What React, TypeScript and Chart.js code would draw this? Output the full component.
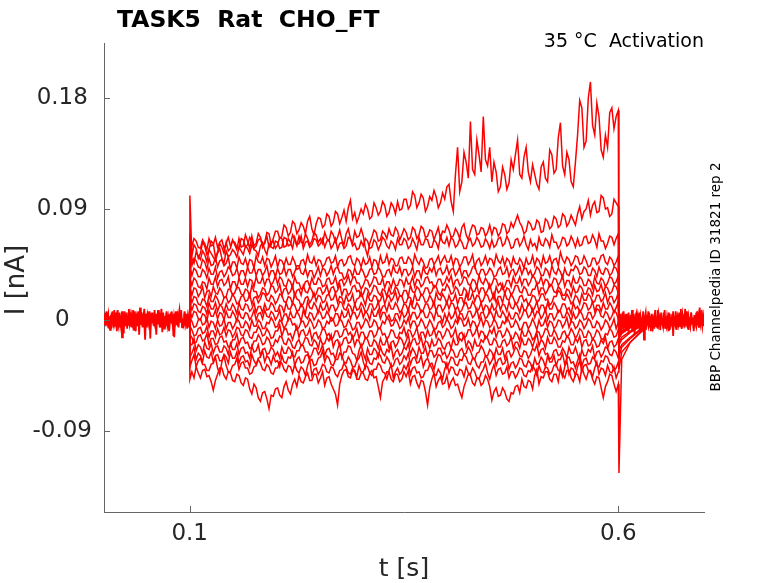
import { useEffect, useRef } from "react";
import { Chart, registerables } from "chart.js";

Chart.register(...registerables);

// ---- axes / ticks ----
const X_MIN = 0;
const X_MAX = 0.7;
const Y_MIN = -0.1557;
const Y_MAX = 0.2246;
const X_TICKS = [0.1, 0.6];
const Y_TICKS = [-0.09, 0, 0.09, 0.18];

// ---- protocol timing (s) ----
const PULSE_START = 0.1;
const PULSE_END = 0.6;
const STEP_DT = 0.0025; // sample interval of the step traces
const ONSET_T = 0.1002;
const TAIL_T = [0.6008, 0.604, 0.614, 0.632];

// ---- current traces during the step, in pA (200 samples, 0.1025 .. 0.600 s) ----
const TRACE_A = [
  52, 61, 58, 50, 54, 63, 60, 53, 57, 64, 62, 51, 55, 62, 59, 54, 63, 56, 58, 65,
  61, 57, 66, 59, 60, 69, 64, 58, 68, 60, 62, 70, 67, 59, 63, 71, 70, 61, 66, 72,
  72, 66, 68, 77, 75, 68, 71, 80, 78, 70, 73, 79, 76, 70, 80, 84, 74, 69, 78, 83,
  82, 75, 77, 86, 84, 76, 79, 88, 86, 78, 83, 89, 80, 91, 97, 82, 87, 79, 84, 90,
  86, 94, 90, 82, 84, 95, 91, 85, 88, 96, 93, 84, 87, 95, 92, 86, 96, 89, 90, 98,
  98, 90, 93, 104, 101, 91, 95, 102, 99, 88, 92, 100, 97, 105, 100, 91, 95, 103, 98, 108,
  110, 96, 88, 118, 140, 104, 112, 136, 128, 115, 161, 122, 118, 146, 134, 120, 165, 130, 125, 140,
  112, 128, 120, 104, 108, 124, 118, 106, 111, 130, 122, 134, 146, 118, 115, 132, 140, 120, 112, 126,
  118, 110, 106, 124, 128, 115, 112, 138, 134, 119, 122, 148, 160, 125, 118, 136, 130, 112, 108, 128,
  150, 178, 172, 140, 145, 180, 193, 158, 150, 176, 165, 138, 132, 150, 140, 168, 172, 155, 165, 170,
];
const TRACE_B = [
  50, 46, 55, 52, 49, 56, 53, 47, 57, 54, 51, 48, 54, 58, 50, 46, 56, 51, 53, 57,
  55, 51, 59, 56, 53, 60, 58, 54, 61, 57, 56, 52, 60, 63, 57, 53, 62, 59, 58, 64,
  63, 58, 59, 67, 66, 60, 61, 69, 65, 60, 68, 63, 62, 70, 66, 61, 64, 71, 69, 63,
  66, 62, 71, 66, 64, 72, 69, 63, 67, 73, 65, 61, 70, 74, 66, 62, 72, 67, 68, 74,
  68, 58, 52, 62, 67, 73, 71, 64, 65, 72, 70, 66, 74, 69, 68, 75, 72, 65, 69, 74,
  71, 65, 67, 75, 73, 66, 69, 76, 74, 67, 68, 73, 72, 65, 70, 75, 66, 72, 71, 77,
  73, 67, 68, 74, 71, 66, 75, 78, 69, 65, 72, 77, 76, 69, 70, 75, 74, 68, 71, 77,
  69, 75, 74, 68, 71, 78, 77, 70, 72, 79, 75, 80, 85, 79, 76, 70, 72, 80, 78, 73,
  74, 81, 79, 71, 72, 82, 80, 74, 76, 84, 82, 75, 77, 86, 84, 76, 79, 85, 81, 77,
  86, 92, 82, 88, 90, 97, 85, 93, 96, 87, 88, 101, 99, 90, 91, 84, 86, 98, 95, 92,
];
const TRACE_C = [
  60, 66, 64, 59, 58, 65, 62, 57, 66, 60, 61, 67, 59, 63, 65, 58, 62, 67, 60, 64,
  63, 59, 58, 66, 65, 59, 61, 67, 64, 58, 60, 65, 66, 61, 62, 68, 59, 63, 64, 58,
  61, 67, 66, 59, 60, 66, 63, 58, 67, 61, 62, 68, 58, 63, 64, 59, 61, 66, 65, 60,
  62, 66, 59, 64, 65, 58, 61, 66, 57, 62, 63, 58, 60, 67, 66, 60, 62, 57, 58, 64,
  60, 66, 64, 58, 59, 65, 63, 57, 61, 67, 65, 60, 58, 64, 62, 57, 66, 61, 61, 66,
  64, 58, 60, 66, 62, 57, 67, 61, 61, 66, 65, 59, 59, 65, 63, 58, 68, 63, 62, 67,
  60, 67, 65, 59, 61, 66, 63, 58, 58, 64, 66, 60, 62, 67, 64, 59, 60, 66, 63, 58,
  65, 59, 61, 66, 67, 60, 62, 68, 64, 58, 59, 65, 66, 60, 63, 68, 61, 57, 65, 60,
  62, 57, 67, 61, 60, 66, 64, 59, 69, 63, 63, 58, 61, 67, 66, 60, 62, 68, 64, 59,
  66, 60, 61, 67, 68, 62, 63, 69, 65, 59, 70, 64, 64, 58, 62, 68, 67, 61, 66, 70,
];
const TRACE_D = [
  44, 50, 48, 43, 42, 49, 47, 41, 50, 44, 45, 51, 43, 48, 49, 44, 46, 51, 41, 47,
  47, 42, 51, 46, 45, 50, 43, 49, 48, 42, 52, 47, 46, 51, 44, 50, 49, 43, 47, 52,
  43, 49, 48, 44, 50, 45, 45, 51, 47, 41, 42, 48, 49, 44, 53, 47, 46, 51, 44, 49,
  48, 43, 45, 50, 51, 46, 47, 52, 43, 48, 49, 44, 46, 51, 52, 46, 44, 50, 48, 43,
  50, 45, 46, 51, 43, 49, 48, 43, 52, 46, 47, 53, 45, 50, 49, 44, 44, 50, 51, 46,
  46, 51, 49, 44, 53, 48, 45, 50, 47, 42, 43, 49, 50, 45, 48, 52, 45, 49, 52, 47,
  47, 52, 44, 50, 49, 43, 46, 51, 51, 45, 48, 53, 43, 48, 50, 44, 47, 52, 45, 50,
  49, 44, 53, 48, 46, 51, 44, 50, 48, 43, 51, 46, 45, 50, 47, 42, 50, 45, 46, 52,
  44, 50, 48, 43, 52, 46, 47, 52, 45, 49, 50, 44, 55, 49, 46, 51, 49, 44, 47, 52,
  51, 45, 46, 52, 48, 43, 44, 50, 50, 45, 47, 52, 53, 47, 45, 51, 49, 44, 47, 52,
];
const TRACE_E = [
  36, 42, 40, 35, 35, 41, 39, 34, 42, 37, 37, 43, 34, 39, 40, 35, 38, 43, 41, 36,
  37, 42, 35, 40, 40, 35, 43, 38, 38, 43, 36, 41, 41, 36, 39, 44, 35, 40, 40, 35,
  42, 37, 38, 43, 36, 41, 41, 35, 39, 44, 44, 38, 37, 42, 35, 40, 40, 34, 38, 43,
  36, 42, 41, 36, 39, 44, 37, 42, 43, 38, 38, 33, 35, 41, 40, 35, 42, 37, 37, 42,
  39, 34, 36, 41, 42, 37, 38, 43, 40, 35, 35, 40, 41, 36, 44, 39, 38, 43, 36, 41,
  41, 36, 38, 43, 35, 40, 40, 34, 43, 38, 37, 42, 39, 44, 36, 41, 42, 37, 39, 44,
  37, 41, 42, 36, 39, 43, 35, 40, 40, 35, 38, 43, 44, 38, 36, 41, 41, 36, 38, 42,
  40, 35, 36, 41, 43, 37, 38, 43, 35, 40, 41, 36, 39, 44, 37, 42, 42, 37, 40, 35,
  38, 43, 41, 36, 36, 42, 40, 35, 44, 39, 37, 42, 39, 34, 42, 37, 36, 41, 40, 44,
  42, 37, 38, 43, 41, 36, 36, 42, 40, 35, 43, 38, 37, 42, 41, 36, 38, 43, 42, 37,
];
const TRACE_F = [
  28, 34, 32, 27, 26, 31, 30, 25, 34, 29, 29, 35, 27, 32, 33, 28, 30, 35, 25, 31,
  31, 26, 34, 29, 29, 34, 27, 33, 32, 27, 35, 30, 30, 35, 28, 33, 33, 28, 31, 36,
  29, 35, 33, 28, 27, 33, 31, 26, 35, 30, 30, 25, 26, 31, 32, 27, 34, 29, 29, 34,
  32, 27, 28, 33, 34, 29, 30, 35, 27, 32, 33, 28, 31, 36, 29, 34, 35, 30, 30, 25,
  28, 33, 32, 27, 30, 35, 34, 29, 29, 34, 26, 31, 31, 26, 33, 28, 28, 33, 32, 27,
  34, 29, 30, 35, 27, 33, 32, 27, 29, 34, 35, 30, 31, 26, 28, 33, 33, 28, 30, 35,
  31, 36, 27, 32, 33, 28, 30, 35, 34, 29, 28, 33, 32, 27, 36, 31, 29, 34, 31, 26,
  29, 34, 33, 28, 30, 25, 27, 32, 32, 27, 35, 30, 30, 35, 28, 33, 33, 28, 31, 36,
  34, 29, 30, 35, 28, 33, 32, 27, 29, 34, 33, 28, 31, 36, 27, 32, 32, 27, 35, 30,
  30, 35, 33, 28, 28, 33, 31, 26, 35, 30, 29, 34, 32, 27, 30, 35, 34, 29, 31, 36,
];
const TRACE_G = [
  20, 26, 25, 19, 22, 27, 18, 23, 24, 19, 27, 22, 21, 26, 23, 18, 19, 25, 25, 20,
  22, 27, 26, 21, 20, 25, 24, 19, 28, 23, 23, 18, 21, 26, 25, 20, 22, 28, 27, 22,
  24, 29, 20, 25, 26, 21, 23, 28, 19, 24, 25, 20, 28, 23, 22, 27, 24, 19, 21, 26,
  26, 21, 23, 28, 21, 26, 27, 22, 24, 29, 20, 25, 25, 20, 22, 27, 28, 23, 24, 19,
  21, 26, 25, 20, 23, 28, 27, 22, 20, 25, 24, 19, 26, 21, 22, 27, 25, 20, 19, 24,
  24, 19, 28, 23, 22, 27, 25, 20, 21, 26, 26, 21, 23, 28, 27, 22, 20, 25, 24, 29,
  26, 21, 22, 27, 25, 20, 20, 26, 24, 19, 28, 23, 23, 28, 21, 26, 26, 21, 24, 29,
  22, 17, 27, 22, 24, 29, 21, 26, 25, 20, 23, 28, 28, 23, 22, 27, 25, 20, 20, 25,
  25, 30, 21, 26, 26, 21, 24, 29, 28, 23, 22, 27, 25, 20, 20, 25, 24, 19, 27, 22,
  23, 28, 26, 21, 21, 26, 25, 20, 28, 23, 24, 29, 22, 27, 26, 21, 23, 28, 27, 22,
];
const TRACE_H = [
  14, 19, 18, 13, 12, 17, 16, 11, 20, 15, 15, 20, 17, 12, 13, 18, 19, 14, 16, 21,
  18, 13, 14, 19, 20, 15, 16, 21, 13, 18, 19, 14, 17, 22, 21, 16, 15, 20, 18, 13,
  16, 21, 20, 15, 14, 19, 18, 13, 22, 17, 16, 11, 13, 18, 19, 14, 17, 22, 15, 20,
  19, 14, 15, 20, 21, 16, 17, 22, 14, 19, 18, 13, 20, 15, 16, 21, 12, 17, 18, 23,
  17, 12, 21, 16, 15, 20, 19, 14, 16, 21, 13, 18, 20, 15, 18, 23, 15, 20, 19, 14,
  14, 19, 18, 13, 21, 16, 16, 21, 19, 14, 15, 20, 17, 12, 22, 17, 16, 21, 18, 13,
  20, 15, 16, 21, 13, 18, 18, 13, 21, 16, 17, 22, 15, 20, 19, 14, 16, 21, 20, 15,
  17, 22, 14, 19, 19, 14, 22, 17, 16, 21, 18, 13, 14, 19, 20, 15, 17, 12, 15, 20,
  19, 14, 16, 21, 21, 16, 17, 12, 14, 19, 19, 24, 22, 17, 16, 21, 18, 13, 15, 20,
  18, 13, 21, 16, 16, 21, 19, 14, 15, 20, 20, 15, 17, 22, 14, 19, 19, 14, 17, 22,
];
const TRACE_I = [
  8, 13, 12, 7, 6, 11, 10, 5, 14, 9, 9, 14, 7, 12, 11, 6, 13, 8, 8, 13,
  10, 5, 14, 9, 8, 13, 12, 7, 9, 14, 6, 11, 11, 6, 13, 8, 9, 14, 12, 7,
  7, 12, 11, 6, 14, 9, 9, 14, 12, 7, 8, 13, 10, 5, 15, 10, 9, 14, 11, 6,
  13, 8, 9, 14, 7, 12, 12, 7, 10, 15, 14, 9, 8, 13, 11, 6, 13, 8, 9, 14,
  11, 6, 8, 13, 13, 8, 10, 15, 6, 11, 12, 7, 14, 9, 9, 14, 11, 6, 8, 13,
  12, 7, 15, 10, 9, 14, 11, 6, 8, 13, 13, 8, 10, 15, 7, 12, 12, 7, 10, 15,
  9, 14, 13, 8, 11, 6, 8, 13, 14, 9, 10, 15, 12, 7, 9, 14, 7, 12, 11, 6,
  13, 8, 10, 15, 8, 13, 12, 7, 15, 10, 9, 14, 11, 6, 13, 8, 8, 13, 12, 7,
  10, 15, 7, 12, 12, 7, 14, 9, 9, 14, 11, 6, 8, 13, 13, 8, 10, 5, 14, 9,
  11, 6, 9, 14, 13, 8, 10, 15, 7, 12, 12, 7, 14, 9, 9, 14, 11, 6, 10, 15,
];
const TRACE_J = [
  2, 7, 6, 1, 0, 5, 4, -1, 8, 3, 3, 8, 1, 6, 5, 0, 7, 2, 2, 7,
  4, -1, 7, 2, 1, 6, 5, 0, 3, 8, 0, 5, 6, 1, 8, 3, 2, 7, 5, 0,
  3, 8, -1, 4, 5, 0, 7, 2, 2, 7, 4, -1, 8, 3, 1, 6, 5, 0, 3, 8,
  6, 1, 2, 7, 4, -1, 0, 5, 5, 0, 7, 2, 3, 8, 1, 6, 6, 1, 4, 9,
  2, 7, 5, 0, 8, 3, 3, 8, 1, 6, 6, 1, 4, -1, 0, 5, 5, 0, 7, 2,
  4, 9, 1, 6, 6, 1, 3, 8, 7, 2, 2, 7, 5, 0, 8, 3, 3, -2, 5, 0,
  6, 1, 3, 8, 0, 5, 5, 0, 2, 7, 7, 2, 4, 9, 1, 6, 6, 1, 3, 8,
  5, 0, 8, 3, 2, 7, 4, -1, 6, 1, 1, 6, 5, 0, 3, 8, 7, 2, 4, 9,
  2, 7, 6, 1, 4, 9, 0, 5, 5, 0, 3, 8, 7, 2, 2, 7, 4, -1, 6, 1,
  3, 8, 5, 0, 1, 6, 6, 1, 4, 9, 8, 3, 2, 7, 5, 0, 3, 8, 6, 1,
];
const TRACE_K = [
  -1, -6, -5, 0, 1, -4, -3, 2, -6, -1, -2, -7, 0, -5, -4, 1, -7, -2, -2, -7,
  -4, 1, -1, -6, -6, -1, -3, -8, 0, -5, -5, 0, -2, -7, -7, -2, -3, 2, -1, -6,
  -5, 0, -2, -7, -4, 1, 1, -4, -3, -8, -6, -1, -1, -6, -4, 1, -2, -7, -5, 0,
  -2, -7, -6, -1, -3, 2, 0, -5, -4, 1, -1, -6, -5, 0, -3, -8, -7, -2, -2, -7,
  -4, 1, -1, -6, -5, 0, -2, -7, -6, -1, -3, 2, 0, -5, -4, 1, -2, -7, -5, 0,
  -3, 2, -6, -1, -1, -6, -4, 1, -2, -7, -5, 0, -3, -8, -7, -2, -1, -6, -4, 1,
  -2, -7, -5, 0, -3, 2, 0, -5, -4, 1, -6, -1, -2, -7, -3, 2, -5, 0, -1, -6,
  -4, 1, -2, -7, -6, -1, -3, 2, -1, -6, -5, 0, -3, -8, -7, -2, -2, -7, -4, 1,
  -3, -8, 0, -5, -4, 1, -6, -1, -2, -7, -5, 0, -1, -6, -3, 2, -6, -1, -2, -7,
  -5, 0, -2, -7, -4, 1, -1, -6, -6, -1, -3, -8, -5, 0, -2, -7, -4, 1, -7, -2,
];
const TRACE_L = [
  -8, -13, -12, -7, -6, -11, -10, -5, -14, -9, -9, -14, -7, -12, -11, -6, -13, -8, -9, -14,
  -11, -6, -7, -12, -13, -8, -9, -14, -15, -10, -10, -5, -8, -13, -12, -7, -10, -15, -14, -9,
  -9, -4, -13, -8, -7, -12, -11, -16, -10, -5, -14, -9, -8, -13, -12, -7, -16, -11, -10, -15,
  -12, -7, -8, -13, -11, -16, -14, -9, -9, -14, -13, -8, -7, -12, -10, -15, -12, -7, -15, -10,
  -10, -15, -14, -9, -9, -14, -12, -7, -7, -12, -11, -16, -13, -8, -9, -14, -15, -10, -11, -6,
  -13, -8, -9, -14, -11, -6, -15, -10, -10, -15, -8, -13, -12, -7, -14, -9, -10, -15, -12, -7,
  -9, -14, -12, -7, -16, -11, -10, -15, -13, -8, -8, -13, -11, -6, -14, -9, -10, -15, -13, -8,
  -11, -6, -14, -9, -9, -14, -12, -7, -10, -15, -15, -10, -12, -17, -8, -13, -13, -8, -11, -16,
  -14, -9, -10, -15, -12, -7, -8, -13, -13, -8, -11, -16, -15, -10, -9, -14, -12, -7, -10, -15,
  -12, -7, -9, -14, -14, -9, -11, -16, -13, -8, -10, -15, -16, -11, -12, -7, -9, -14, -13, -8,
];
const TRACE_M = [
  -14, -19, -18, -13, -12, -17, -16, -11, -20, -15, -15, -20, -19, -14, -13, -18, -17, -22, -21, -16,
  -16, -11, -20, -15, -14, -19, -18, -23, -22, -17, -17, -12, -15, -20, -19, -14, -16, -21, -21, -16,
  -18, -13, -14, -19, -20, -15, -17, -22, -23, -18, -16, -21, -19, -14, -15, -20, -21, -16, -18, -23,
  -15, -20, -19, -14, -17, -12, -22, -17, -16, -21, -20, -15, -14, -19, -18, -13, -21, -16, -17, -22,
  -19, -14, -16, -21, -21, -16, -18, -23, -15, -20, -20, -15, -23, -18, -17, -22, -19, -14, -16, -21,
  -17, -12, -21, -16, -15, -20, -19, -14, -22, -17, -18, -23, -16, -21, -20, -15, -17, -22, -24, -19,
  -18, -23, -15, -20, -20, -15, -17, -12, -22, -17, -19, -24, -16, -21, -21, -16, -18, -13, -15, -20,
  -20, -15, -17, -22, -22, -17, -16, -21, -19, -14, -23, -18, -18, -23, -15, -20, -20, -15, -17, -22,
  -16, -11, -21, -16, -18, -23, -14, -19, -19, -14, -17, -22, -22, -17, -18, -13, -15, -20, -20, -15,
  -18, -13, -22, -17, -16, -21, -20, -15, -17, -22, -21, -16, -19, -14, -23, -18, -17, -22, -20, -15,
];
const TRACE_N = [
  -20, -15, -25, -20, -22, -27, -18, -23, -24, -19, -27, -22, -21, -26, -26, -21, -23, -28, -19, -24,
  -24, -19, -28, -23, -22, -27, -26, -31, -21, -26, -25, -20, -29, -24, -23, -28, -27, -22, -24, -29,
  -26, -31, -22, -27, -27, -22, -24, -29, -30, -25, -25, -20, -21, -26, -26, -31, -28, -23, -23, -28,
  -25, -20, -29, -24, -23, -28, -27, -32, -24, -19, -31, -26, -26, -21, -22, -27, -28, -33, -25, -20,
  -27, -32, -23, -28, -28, -23, -25, -30, -22, -27, -29, -24, -26, -21, -31, -26, -24, -29, -27, -22,
  -24, -19, -28, -23, -26, -31, -22, -27, -27, -22, -30, -25, -25, -30, -28, -23, -23, -28, -26, -31,
  -28, -23, -25, -30, -30, -25, -23, -28, -27, -22, -25, -30, -32, -27, -26, -21, -24, -29, -29, -24,
  -26, -31, -23, -28, -28, -23, -31, -26, -25, -30, -27, -22, -24, -29, -30, -25, -26, -31, -28, -23,
  -25, -20, -29, -24, -23, -28, -27, -32, -30, -25, -24, -29, -28, -23, -26, -31, -22, -27, -27, -22,
  -28, -33, -24, -29, -29, -24, -26, -21, -31, -26, -25, -30, -27, -22, -23, -28, -29, -24, -26, -31,
];
const TRACE_O = [
  -27, -22, -32, -27, -29, -34, -25, -30, -31, -26, -34, -29, -28, -33, -33, -28, -30, -35, -26, -31,
  -31, -26, -35, -30, -29, -34, -33, -38, -28, -33, -36, -31, -30, -25, -34, -29, -31, -36, -29, -34,
  -33, -38, -29, -34, -35, -30, -31, -26, -37, -32, -30, -35, -34, -29, -28, -33, -32, -37, -36, -31,
  -30, -25, -34, -29, -31, -36, -37, -32, -32, -27, -29, -34, -35, -30, -33, -38, -38, -33, -31, -26,
  -34, -39, -30, -35, -36, -31, -32, -27, -29, -34, -35, -30, -33, -38, -37, -32, -31, -36, -34, -29,
  -32, -27, -36, -31, -30, -35, -34, -29, -38, -33, -31, -36, -35, -40, -33, -28, -29, -34, -34, -39,
  -35, -30, -31, -36, -37, -32, -33, -28, -30, -35, -36, -31, -32, -37, -39, -34, -34, -29, -31, -36,
  -33, -28, -37, -32, -31, -36, -35, -30, -40, -35, -34, -39, -36, -31, -32, -37, -38, -33, -35, -40,
  -31, -36, -35, -30, -33, -38, -29, -34, -34, -29, -37, -32, -32, -27, -36, -31, -30, -35, -34, -39,
  -33, -28, -37, -32, -31, -36, -35, -30, -32, -37, -38, -33, -34, -29, -30, -35, -36, -41, -39, -34,
];
const TRACE_P = [
  -33, -28, -38, -33, -31, -36, -36, -41, -41, -36, -35, -30, -39, -44, -34, -29, -37, -42, -42, -37,
  -36, -31, -40, -35, -34, -39, -39, -44, -43, -38, -37, -32, -35, -40, -41, -36, -38, -43, -44, -39,
  -39, -34, -35, -40, -42, -37, -38, -43, -36, -41, -43, -38, -40, -45, -37, -32, -45, -40, -39, -44,
  -41, -36, -37, -42, -43, -38, -39, -44, -46, -41, -40, -35, -38, -43, -44, -39, -41, -46, -37, -42,
  -42, -37, -38, -43, -45, -40, -40, -35, -37, -42, -43, -48, -41, -36, -47, -42, -39, -44, -42, -37,
  -40, -35, -44, -39, -38, -43, -42, -47, -46, -41, -41, -36, -39, -44, -45, -40, -43, -48, -40, -35,
  -43, -38, -39, -44, -45, -40, -41, -46, -38, -43, -44, -39, -42, -47, -48, -43, -40, -35, -43, -48,
  -41, -36, -45, -40, -39, -44, -43, -38, -47, -42, -42, -47, -44, -39, -40, -45, -46, -41, -42, -37,
  -40, -45, -37, -42, -43, -38, -39, -44, -42, -37, -36, -41, -41, -46, -38, -33, -44, -39, -40, -45,
  -38, -33, -42, -37, -36, -41, -41, -46, -39, -34, -44, -39, -40, -45, -37, -42, -43, -38, -47, -42,
];
const TRACE_Q = [
  -42, -47, -38, -43, -47, -41, -40, -46, -45, -50, -57, -49, -44, -39, -39, -45, -48, -42, -43, -49,
  -50, -44, -45, -51, -53, -47, -48, -56, -60, -52, -55, -63, -66, -59, -58, -64, -72, -61, -62, -56,
  -55, -61, -63, -54, -50, -57, -60, -52, -48, -54, -45, -50, -51, -46, -43, -49, -49, -44, -44, -51,
  -47, -42, -53, -47, -46, -52, -56, -60, -69, -52, -45, -41, -40, -46, -47, -41, -42, -48, -48, -43,
  -43, -48, -49, -43, -41, -47, -46, -54, -63, -50, -47, -42, -42, -48, -50, -44, -44, -50, -48, -42,
  -46, -41, -52, -46, -45, -51, -55, -49, -50, -58, -69, -55, -48, -43, -54, -49, -46, -52, -51, -45,
  -55, -50, -47, -53, -52, -58, -63, -54, -49, -44, -45, -51, -53, -47, -47, -53, -51, -45, -48, -54,
  -65, -58, -55, -62, -61, -55, -58, -64, -66, -59, -60, -54, -53, -59, -48, -54, -55, -49, -50, -56,
  -45, -40, -52, -46, -47, -42, -42, -48, -50, -44, -44, -50, -38, -44, -47, -41, -41, -47, -50, -44,
  -44, -50, -38, -44, -48, -42, -42, -48, -52, -46, -47, -55, -63, -54, -50, -44, -45, -52, -58, -52,
];

const STEP_TRACES = [
  TRACE_A, TRACE_B, TRACE_C, TRACE_D, TRACE_E, TRACE_F, TRACE_G, TRACE_H, TRACE_I,
  TRACE_J, TRACE_K, TRACE_L, TRACE_M, TRACE_N, TRACE_O, TRACE_P, TRACE_Q,
];

// onset transient value (pA) of each trace at ONSET_T
const ONSET = [101, 60, 70, 55, 45, 35, 28, 22, 15, 8, 2, -5, -12, -20, -30, -38, -48];

// deactivation tail (pA) of each trace at TAIL_T
const TAILS = [
  [-10, -6, -3, -1],
  [-14, -10, -6, -2],
  [-6, -3, -1, 0],
  [-20, -16, -10, -3],
  [-8, -4, -2, 0],
  [-30, -22, -15, -5],
  [-5, -2, 0, 1],
  [-12, -9, -5, -1],
  [-4, -2, 0, 0],
  [-18, -14, -9, -2],
  [-3, -1, 0, 0],
  [-9, -6, -3, 0],
  [-25, -20, -14, -4],
  [-6, -3, -1, 0],
  [-40, -26, -18, -6],
  [-15, -11, -6, -1],
  [-124, -32, -18, -6],
];

// holding-current baseline (pA), before (0..0.1 s) and after (0.6..0.7 s) the step
const BASE1_PRE = [
  3, -4, 6, -2, 5, -6, 2, -8, 4, -1, 7, -3, 1, -5, 6, -2, 8, -4, 0, -6,
  3, -14, 5, -2, 7, -3, 4, -7, 2, -1, 6, -5, 3, -2, 8, -4, 1, -9, 5, -3,
  7, -12, 4, -1, 6, -5, 2, 9, -3, 5, -6, 3, -2, 7, -15, 4, -1, 6, -4, 2,
  -7, 5, -2, 8, -3, 1, -6, 4, -10, 6, -2, 3, -5, 7, -1, 4, -8, 2, 6, -3,
  5, -13, 3, -1, 7, -4, 2, -6, 5, -2, 8, -3, 1, -5, 6, -2, 4, -7, 3, -1, 5,
];
const BASE2_PRE = [
  -2, 5, -5, 7, -1, 4, -7, 3, -3, 6, 0, -6, 8, -2, 2, -9, 5, -1, 6, -4,
  1, 7, -3, -11, 4, -5, 6, 0, -4, 9, -2, 3, -6, 5, -1, -8, 7, -3, 2, -5,
  6, -2, 10, -4, 1, -6, 4, -3, -16, 5, -1, 7, -4, 2, -7, 6, -2, 3, -5, 8,
  -1, -12, 4, -3, 6, -6, 2, 9, -2, 5, -7, 3, -1, 6, -4, 1, -9, 5, -2, 7,
  -3, 2, -14, 4, -1, 6, -5, 3, 8, -2, 4, -6, 1, -3, 7, -2, 5, -4, 2, -6, 3,
];
const BASE1_POST = [
  -5, 4, -8, 2, -3, 6, -9, 1, -4, 5, -7, 3, -11, 2, -6, 4, -2, -9, 5, -3,
  1, -7, 6, -4, 2, -10, 3, -1, -6, 7, -3, 1, -8, 4, -2, -5, 6, -1, -9, 3,
  -4, 2, -7, 5, -2, -6, 8, -3, 1, -8, 4, -2, -5, 6, -1, -7, 3, -4, 2, -9,
  5, -3, 0, -6, 7, -2, -4, 3, -8, 1, -3, 6, -5, 2, -7, 4, -1, -6, 9, -2,
  -4, 3, -8, 2, -5, 6, -3, 1, -7, 4, -2, -5, 7, -1, -6, 3, -3, 8, -4, 2, -5,
];
const BASE2_POST = [
  2, -6, 5, -10, 3, -3, 7, -5, 1, -8, 4, -2, 6, -7, 0, -4, 8, -3, -1, -12,
  2, 5, -6, 3, -2, 6, -8, 1, -5, 4, -16, 2, 6, -4, -1, 7, -6, 3, -3, 5,
  -9, 1, -2, 8, -5, 2, -7, 4, -1, -4, 6, -3, 1, -7, 8, -2, -5, 3, -1, 6,
  -8, 2, -4, 5, -13, 3, -2, 7, -5, 1, -6, 4, -3, 9, -7, 2, -1, 5, -4, -2,
  7, -6, 3, -1, -5, 6, -3, 2, -9, 4, -1, 6, -4, 2, -6, 10, -3, 1, -5, 3, -2,
];

const RED = "#ff0000";
const AXIS = "#666666";
const TEXT = "#262626";
const FONT = '"DejaVu Sans"';

const pA = (v: number) => v / 1000; // pA -> nA

function segment(vals: number[], t0: number, t1: number) {
  const n = vals.length;
  return vals.map((v, i) => ({ x: t0 + ((t1 - t0) * i) / (n - 1), y: pA(v) }));
}

function stepTrace(vals: number[], i: number) {
  const pts = [
    { x: PULSE_START, y: 0 },
    { x: ONSET_T, y: pA(ONSET[i]) },
  ];
  vals.forEach((v, k) => pts.push({ x: PULSE_START + STEP_DT * (k + 1), y: pA(v) }));
  TAILS[i].forEach((v, k) => pts.push({ x: TAIL_T[k], y: pA(v) }));
  return pts;
}

const decorPlugin = {
  id: "decor",
  afterDraw(chart: any) {
    const { ctx, chartArea } = chart;
    const xs = chart.scales.x;
    const ys = chart.scales.y;
    ctx.save();
    // inward tick marks
    ctx.strokeStyle = AXIS;
    ctx.lineWidth = 1;
    ctx.beginPath();
    X_TICKS.forEach((v) => {
      const px = Math.round(xs.getPixelForValue(v)) + 0.5;
      ctx.moveTo(px, chartArea.bottom);
      ctx.lineTo(px, chartArea.bottom - 6);
    });
    Y_TICKS.forEach((v) => {
      const py = Math.round(ys.getPixelForValue(v)) + 0.5;
      ctx.moveTo(chartArea.left, py);
      ctx.lineTo(chartArea.left + 6, py);
    });
    ctx.stroke();

    // title
    ctx.fillStyle = "#000000";
    ctx.font = `bold 23.5px ${FONT}`;
    ctx.textAlign = "left";
    ctx.textBaseline = "alphabetic";
    ctx.fillText("TASK5  Rat  CHO_FT", 117, 27);

    // condition label
    ctx.font = `19px ${FONT}`;
    ctx.textAlign = "right";
    ctx.fillText("35 °C  Activation", chartArea.right, 47);

    // axis titles
    ctx.fillStyle = TEXT;
    ctx.font = `25px ${FONT}`;
    ctx.textAlign = "center";
    ctx.fillText("t [s]", 404, 576);

    ctx.save();
    ctx.translate(17, 280);
    ctx.rotate(-Math.PI / 2);
    ctx.font = `26px ${FONT}`;
    ctx.textAlign = "center";
    ctx.textBaseline = "middle";
    ctx.fillText("I [nA]", 0, 0);
    ctx.restore();

    // side label
    ctx.save();
    ctx.translate(716, 277);
    ctx.rotate(-Math.PI / 2);
    ctx.fillStyle = "#000000";
    ctx.font = `13.5px ${FONT}`;
    ctx.textAlign = "center";
    ctx.textBaseline = "middle";
    ctx.fillText("BBP Channelpedia ID 31821 rep 2", 0, 0);
    ctx.restore();

    ctx.restore();
  },
};

export default function App() {
  const ref = useRef<HTMLCanvasElement | null>(null);

  useEffect(() => {
    if (!ref.current) return;
    const stepStyle = {
      borderColor: RED,
      borderWidth: 1.5,
      pointRadius: 0,
      tension: 0,
      fill: false,
    };
    const baseStyle = { ...stepStyle, borderWidth: 1.8 };
    const datasets: any[] = [
      { ...baseStyle, data: segment(BASE1_PRE, 0, PULSE_START) },
      { ...baseStyle, data: segment(BASE2_PRE, 0, PULSE_START) },
      { ...baseStyle, data: segment(BASE1_POST, PULSE_END, X_MAX) },
      { ...baseStyle, data: segment(BASE2_POST, PULSE_END, X_MAX) },
      ...STEP_TRACES.map((vals, i) => ({ ...stepStyle, data: stepTrace(vals, i) })),
    ];

    const chart = new Chart(ref.current, {
      type: "line",
      data: { datasets },
      options: {
        animation: false,
        responsive: false,
        devicePixelRatio: 1,
        events: [],
        layout: { padding: { top: 43, right: 74, bottom: 0, left: 0 } },
        plugins: { legend: { display: false }, tooltip: { enabled: false }, title: { display: false } },
        scales: {
          x: {
            type: "linear",
            min: X_MIN,
            max: X_MAX,
            afterBuildTicks: (s: any) => {
              s.ticks = X_TICKS.map((v) => ({ value: v }));
            },
            afterFit: (s: any) => {
              s.height = 71;
            },
            grid: { display: false, drawTicks: false },
            border: { display: true, color: AXIS, width: 1 },
            ticks: {
              padding: 8,
              color: TEXT,
              font: { family: FONT, size: 23 },
              maxRotation: 0,
              callback: (v: any) => String(v),
            },
          },
          y: {
            type: "linear",
            min: Y_MIN,
            max: Y_MAX,
            afterBuildTicks: (s: any) => {
              s.ticks = Y_TICKS.map((v) => ({ value: v }));
            },
            afterFit: (s: any) => {
              s.width = 104;
            },
            grid: { display: false, drawTicks: false },
            border: { display: true, color: AXIS, width: 1 },
            ticks: {
              padding: 12,
              crossAlign: "center",
              color: TEXT,
              font: { family: FONT, size: 23 },
              callback: (v: any) => String(v),
            },
          },
        },
      },
      plugins: [decorPlugin],
    } as any);

    return () => chart.destroy();
  }, []);

  return (
    <div style={{ position: "fixed", left: 0, top: 0, width: 778, height: 583, background: "#ffffff" }}>
      <canvas ref={ref} width={778} height={583} />
    </div>
  );
}
